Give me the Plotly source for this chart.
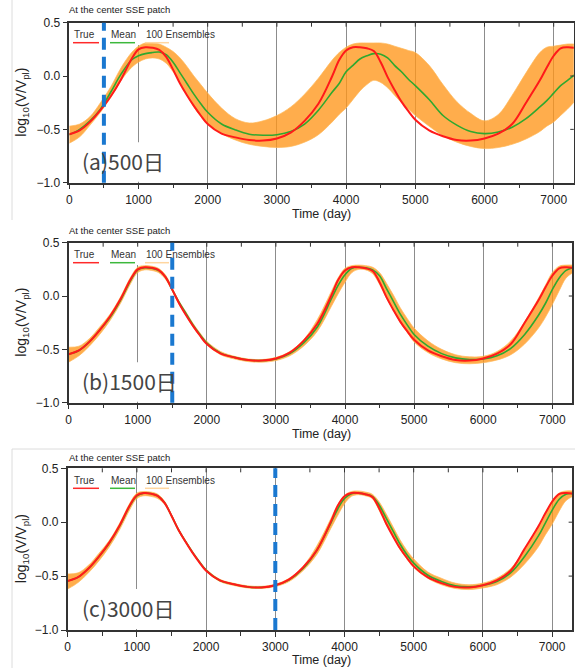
import plotly.graph_objects as go

# ---------------- data ----------------
days = [0, 150, 300, 450, 600, 750, 900, 1000, 1100, 1200, 1300, 1400, 1500, 1600,
        1700, 1800, 1900, 2000, 2200, 2400, 2600, 2800, 3000, 3200, 3400, 3600, 3800,
        3900, 4000, 4100, 4200, 4300, 4400, 4500, 4600, 4700, 4800, 4900, 5000, 5200,
        5400, 5600, 5800, 6000, 6200, 6400, 6600, 6800, 6900, 7000, 7100, 7200, 7300]

true_curve = [-0.545, -0.51, -0.43, -0.32, -0.19, -0.03, 0.16, 0.25, 0.27, 0.265, 0.245, 0.18,
              0.06, -0.07, -0.18, -0.28, -0.37, -0.45, -0.54, -0.575, -0.60, -0.605, -0.585,
              -0.53, -0.42, -0.26, 0.0, 0.15, 0.24, 0.27, 0.27, 0.26, 0.235, 0.13, -0.01,
              -0.13, -0.24, -0.33, -0.41, -0.51, -0.565, -0.60, -0.605, -0.585, -0.54, -0.45,
              -0.25, -0.04, 0.08, 0.19, 0.26, 0.27, 0.265]

mean_a = [-0.55, -0.50, -0.42, -0.31, -0.15, 0.02, 0.15, 0.19, 0.21, 0.22, 0.225, 0.20,
          0.13, 0.03, -0.07, -0.17, -0.26, -0.34, -0.45, -0.505, -0.545, -0.555, -0.55,
          -0.52, -0.45, -0.32, -0.15, -0.07, 0.04, 0.10, 0.16, 0.19, 0.21, 0.205, 0.17,
          0.10, 0.04, -0.03, -0.09, -0.22, -0.37, -0.46, -0.52, -0.54, -0.525, -0.48,
          -0.40, -0.29, -0.23, -0.16, -0.09, -0.04, 0.01]
ens_a_upper = [-0.47, -0.45, -0.38, -0.25, -0.10, 0.08, 0.22, 0.28, 0.31, 0.31, 0.30, 0.27,
               0.23, 0.17, 0.09, 0.00, -0.08, -0.16, -0.30, -0.40, -0.44, -0.42, -0.37,
               -0.29, -0.17, -0.02, 0.15, 0.22, 0.27, 0.30, 0.31, 0.31, 0.31, 0.31, 0.30,
               0.28, 0.26, 0.24, 0.22, 0.10, -0.08, -0.24, -0.35, -0.42, -0.36, -0.18,
               0.03, 0.22, 0.27, 0.28, 0.29, 0.30, 0.30]
ens_a_lower = [-0.63, -0.57, -0.46, -0.34, -0.20, -0.04, 0.08, 0.13, 0.16, 0.17, 0.16, 0.12,
               0.04, -0.06, -0.18, -0.29, -0.38, -0.45, -0.54, -0.60, -0.64, -0.66, -0.67,
               -0.66, -0.62, -0.55, -0.43, -0.36, -0.30, -0.22, -0.14, -0.08, -0.04, -0.06,
               -0.11, -0.18, -0.25, -0.31, -0.37, -0.47, -0.56, -0.62, -0.66, -0.68, -0.67,
               -0.64, -0.59, -0.52, -0.47, -0.43, -0.37, -0.31, -0.24]

mean_b = [-0.545, -0.51, -0.43, -0.32, -0.20, -0.04, 0.15, 0.245, 0.265, 0.26, 0.24, 0.18,
          0.06, -0.06, -0.165, -0.27, -0.36, -0.44, -0.535, -0.575, -0.60, -0.605, -0.59,
          -0.54, -0.44, -0.29, -0.03, 0.10, 0.20, 0.26, 0.27, 0.265, 0.245, 0.19, 0.07,
          -0.05, -0.17, -0.27, -0.36, -0.47, -0.54, -0.58, -0.595, -0.59, -0.56, -0.49,
          -0.36, -0.18, -0.07, 0.06, 0.17, 0.24, 0.265]
ens_b_upper = [-0.48, -0.47, -0.40, -0.29, -0.17, -0.01, 0.18, 0.27, 0.285, 0.28, 0.26, 0.20,
               0.075, -0.05, -0.15, -0.255, -0.345, -0.425, -0.52, -0.565, -0.59, -0.595,
               -0.575, -0.52, -0.41, -0.22, 0.04, 0.17, 0.26, 0.285, 0.29, 0.285, 0.27, 0.22,
               0.12, 0.01, -0.11, -0.21, -0.30, -0.42, -0.50, -0.55, -0.57, -0.565, -0.52,
               -0.42, -0.24, -0.02, 0.10, 0.22, 0.28, 0.29, 0.29]
ens_b_lower = [-0.62, -0.56, -0.47, -0.36, -0.23, -0.07, 0.12, 0.22, 0.245, 0.24, 0.22, 0.16,
               0.045, -0.08, -0.185, -0.29, -0.375, -0.455, -0.55, -0.59, -0.615, -0.62,
               -0.605, -0.56, -0.47, -0.33, -0.10, 0.02, 0.13, 0.22, 0.25, 0.245, 0.21, 0.11,
               -0.02, -0.13, -0.25, -0.34, -0.43, -0.53, -0.59, -0.625, -0.635, -0.625, -0.60,
               -0.55, -0.45, -0.30, -0.20, -0.08, 0.05, 0.17, 0.22]

mean_c = [-0.545, -0.51, -0.43, -0.32, -0.195, -0.035, 0.155, 0.245, 0.27, 0.265, 0.245, 0.18,
          0.06, -0.07, -0.175, -0.275, -0.365, -0.445, -0.54, -0.575, -0.60, -0.605, -0.585,
          -0.535, -0.43, -0.26, -0.01, 0.12, 0.22, 0.265, 0.27, 0.26, 0.24, 0.16, 0.04,
          -0.08, -0.20, -0.30, -0.38, -0.49, -0.55, -0.59, -0.60, -0.585, -0.55, -0.47,
          -0.32, -0.13, -0.01, 0.11, 0.21, 0.26, 0.265]
ens_c_upper = [-0.48, -0.47, -0.40, -0.29, -0.17, -0.01, 0.18, 0.27, 0.285, 0.28, 0.26, 0.195,
               0.07, -0.06, -0.165, -0.265, -0.355, -0.435, -0.53, -0.567, -0.59, -0.595,
               -0.575, -0.52, -0.41, -0.22, 0.03, 0.16, 0.25, 0.285, 0.29, 0.28, 0.26, 0.19,
               0.08, -0.04, -0.16, -0.26, -0.34, -0.46, -0.52, -0.565, -0.58, -0.565, -0.52,
               -0.43, -0.26, -0.05, 0.07, 0.20, 0.27, 0.29, 0.29]
ens_c_lower = [-0.62, -0.56, -0.47, -0.36, -0.23, -0.07, 0.12, 0.22, 0.245, 0.24, 0.22, 0.165,
               0.05, -0.08, -0.185, -0.285, -0.375, -0.455, -0.55, -0.587, -0.61, -0.615,
               -0.597, -0.55, -0.45, -0.30, -0.06, 0.06, 0.17, 0.24, 0.255, 0.245, 0.22, 0.11,
               -0.02, -0.13, -0.25, -0.34, -0.42, -0.52, -0.58, -0.615, -0.625, -0.61, -0.58,
               -0.51, -0.39, -0.23, -0.12, -0.02, 0.10, 0.20, 0.24]

panel_labels = ["(a)500日", "(b)1500日", "(c)3000日"]
assim_days = [500, 1500, 3000]
x_ticks = [0, 1000, 2000, 3000, 4000, 5000, 6000, 7000]
y_ticks = [0.5, 0.0, -0.5, -1.0]
legend_names = ["True", "Mean", "100 Ensembles"]

# ---------------- layout geometry (pixels) ----------------
W, H = 575, 668
FONT = "Liberation Sans, Arial, sans-serif"
XMAX = 7290
panels = [
    # x0 px, px per 1000 days, top px, bottom px
    dict(x0=69.3, k=69.2, top=22.7, bot=182.7, title_y=10, xlab_y=214),
    dict(x0=68.6, k=69.1, top=242.7, bot=402.7, title_y=230, xlab_y=434),
    dict(x0=67.7, k=69.2, top=468.3, bot=630.0, title_y=457, xlab_y=660),
]
means = [mean_a, mean_b, mean_c]
uppers = [ens_a_upper, ens_b_upper, ens_c_upper]
lowers = [ens_a_lower, ens_b_lower, ens_c_lower]

def px(x):
    return x / W

def py(y):
    return 1 - y / H

fig = go.Figure()
shapes = []
annotations = []

for i, p in enumerate(panels):
    n = "" if i == 0 else str(i + 1)
    xa, ya = "x" + n, "y" + n
    xr = min(p["x0"] + p["k"] * XMAX / 1000.0, W - 0.5)
    dom_x = [px(p["x0"]), px(xr)]
    dom_y = [py(p["bot"]), py(p["top"])]

    # ensemble spread
    fig.add_trace(go.Scatter(x=days, y=uppers[i], mode="lines", xaxis=xa, yaxis=ya,
                             line=dict(color="rgba(255,185,90,0.7)", width=1, shape="spline"),
                             showlegend=False, hoverinfo="skip"))
    fig.add_trace(go.Scatter(x=days, y=lowers[i], mode="lines", xaxis=xa, yaxis=ya,
                             fill="tonexty", fillcolor="rgba(255,150,25,0.78)",
                             line=dict(color="rgba(255,185,90,0.7)", width=1, shape="spline"),
                             showlegend=False, hoverinfo="skip"))
    # mean
    fig.add_trace(go.Scatter(x=days, y=means[i], mode="lines", xaxis=xa, yaxis=ya,
                             line=dict(color="#2fa82f", width=1.6, shape="spline"),
                             showlegend=False))
    # true
    fig.add_trace(go.Scatter(x=days, y=true_curve, mode="lines", xaxis=xa, yaxis=ya,
                             line=dict(color="#ff1a1a", width=2, shape="spline"),
                             showlegend=False))

    axis_common = dict(showline=True, linecolor="#333", linewidth=1.5, mirror=True,
                       zeroline=False, ticks="outside", tickcolor="#333", ticklen=5,
                       automargin=False,
                       tickfont=dict(family=FONT, size=12, color="#222"))
    fig.layout["xaxis" + n] = dict(domain=dom_x, range=[0, XMAX], anchor=ya,
                                   tickvals=x_ticks, ticktext=[str(v) for v in x_ticks],
                                   showgrid=True, gridcolor="#8c8c8c", gridwidth=1.2,
                                   minor=dict(dtick=500, tick0=0, ticks="outside", ticklen=4,
                                              tickcolor="#333", showgrid=False),
                                   **axis_common)
    fig.layout["yaxis" + n] = dict(domain=dom_y, range=[-1.0, 0.5], anchor=xa,
                                   tickvals=y_ticks, tickformat=".1f", showgrid=False,
                                   **axis_common)

    # white boxes hiding grid under legend / label (as in the original)
    if i < 2:
        shapes.append(dict(type="rect", xref=xa, yref=ya, x0=20, x1=1500, y0=0.29, y1=0.49,
                           fillcolor="white", line=dict(width=0), layer="between"))
    shapes.append(dict(type="rect", xref=xa, yref=ya, x0=20, x1=1550, y0=-0.99, y1=-0.62,
                       fillcolor="white", line=dict(width=0), layer="between"))

    # inward ticks on top and right frame edges
    for tv in range(500, 7290, 500):
        shapes.append(dict(type="line", xref=xa, yref=ya + " domain", x0=tv, x1=tv,
                           y0=1, y1=0.975, line=dict(color="#333", width=1)))
    for yv in [0.0, -0.5]:
        shapes.append(dict(type="line", xref=xa + " domain", yref=ya, x0=1, x1=0.993,
                           y0=yv, y1=yv, line=dict(color="#333", width=1)))

    # assimilation time dashed line
    shapes.append(dict(type="line", xref=xa, yref=ya + " domain", x0=assim_days[i], x1=assim_days[i],
                       y0=0, y1=1, line=dict(color="#1a78d0", width=4, dash="12px,7px"),
                       layer="above"))

    # legend (drawn manually)
    lx = [73, 110, 145]
    lcol = ["#ff2a2a", "#3cb83c", "#ffd6a0"]
    lwid = [26, 25, 24]
    for j in range(3):
        annotations.append(dict(text=legend_names[j], x=px(lx[j] - 1), y=py(p["top"] + 12),
                                xref="paper", yref="paper", xanchor="left", yanchor="middle",
                                showarrow=False, font=dict(family=FONT, size=10, color="#333")))
        shapes.append(dict(type="line", xref="paper", yref="paper",
                           x0=px(lx[j]), x1=px(lx[j] + lwid[j]),
                           y0=py(p["top"] + 20), y1=py(p["top"] + 20),
                           line=dict(color=lcol[j], width=1.5)))

    # small title
    annotations.append(dict(text="At the center SSE patch", x=px(67), y=py(p["title_y"]),
                            xref="paper", yref="paper", xanchor="left", yanchor="middle",
                            showarrow=False, font=dict(family=FONT, size=9.5, color="#222")))
    # panel label
    annotations.append(dict(text=panel_labels[i], x=px(80), y=py((p["bot"] - 22)),
                            xref="paper", yref="paper", xanchor="left", yanchor="middle",
                            showarrow=False,
                            font=dict(family="Noto Sans CJK JP, Noto Sans, sans-serif",
                                      size=21, color="#444")))
    # y-axis title
    annotations.append(dict(text="log<sub>10</sub>(V/V<sub>pl</sub>)", x=px(22),
                            y=py((p["top"] + p["bot"]) / 2), xref="paper", yref="paper",
                            xanchor="center", yanchor="middle", textangle=-90, showarrow=False,
                            font=dict(family=FONT, size=14, color="#222")))
    # x-axis title
    annotations.append(dict(text="Time (day)", x=px(321), y=py(p["xlab_y"]),
                            xref="paper", yref="paper", xanchor="center", yanchor="middle",
                            showarrow=False, font=dict(family=FONT, size=12.5, color="#222")))

# faint frame lines of the original screenshot
frame = "#dcdcdc"
shapes.append(dict(type="line", xref="paper", yref="paper", x0=px(12), x1=px(12),
                   y0=py(0), y1=py(220), line=dict(color=frame, width=1)))
shapes.append(dict(type="line", xref="paper", yref="paper", x0=px(12), x1=px(12),
                   y0=py(449), y1=py(668), line=dict(color=frame, width=1)))
shapes.append(dict(type="line", xref="paper", yref="paper", x0=px(12), x1=px(575),
                   y0=py(449), y1=py(449), line=dict(color=frame, width=1)))

fig.update_layout(width=W, height=H, margin=dict(l=0, r=0, t=0, b=0, autoexpand=False),
                  paper_bgcolor="white", plot_bgcolor="white",
                  shapes=shapes, annotations=annotations, showlegend=False,
                  font=dict(family=FONT))

fig.write_html("out.html", config={"displayModeBar": False},
               post_script="document.body.style.margin='0';document.body.style.padding='0';")
